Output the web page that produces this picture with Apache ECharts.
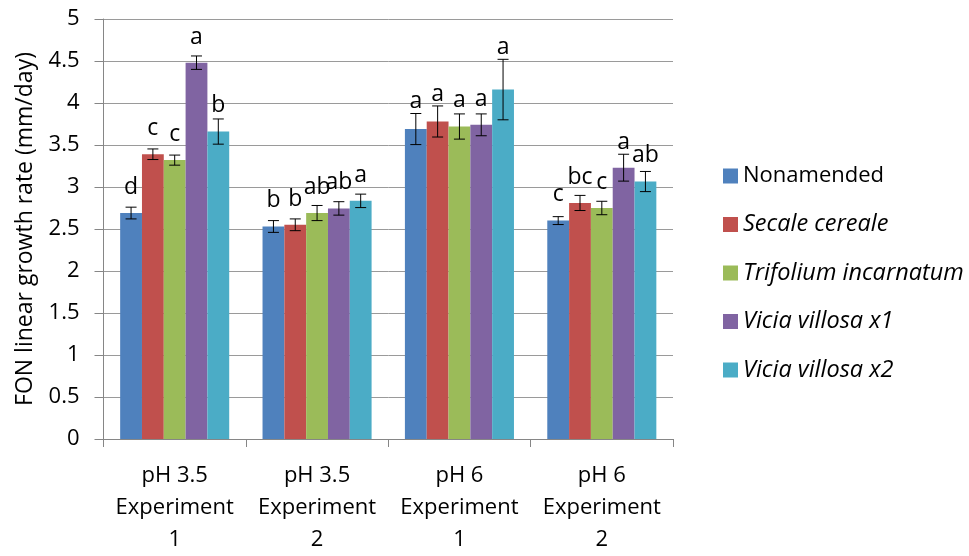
<!DOCTYPE html>
<html>
<head>
<meta charset="utf-8">
<script src="https://cdn.jsdelivr.net/npm/echarts@6/dist/echarts.min.js"></script>
<style>
  html, body { margin: 0; padding: 0; background: #fff; }
  #chart { width: 969px; height: 556px; }
</style>
</head>
<body>
<div id="chart"></div>
<script>
// Experiment groups on the x axis
const categories = ['pH 3.5\nExperiment\n1', 'pH 3.5\nExperiment\n2', 'pH 6\nExperiment\n1', 'pH 6\nExperiment\n2'];

// Treatments (legend order)
const seriesNames = ['Nonamended', 'Secale cereale', 'Trifolium incarnatum', 'Vicia villosa x1', 'Vicia villosa x2'];

// Mean linear growth rate (mm/day) per treatment
const nonamended = [2.69, 2.53, 3.69, 2.60];
const secaleCereale = [3.39, 2.55, 3.78, 2.81];
const trifoliumIncarnatum = [3.32, 2.69, 3.72, 2.75];
const viciaVillosaX1 = [4.48, 2.745, 3.74, 3.23];
const viciaVillosaX2 = [3.66, 2.835, 4.16, 3.065];

// Standard error per treatment
const nonamendedErr = [0.07, 0.07, 0.185, 0.047];
const secaleCerealeErr = [0.063, 0.07, 0.185, 0.09];
const trifoliumIncarnatumErr = [0.06, 0.09, 0.15, 0.08];
const viciaVillosaX1Err = [0.08, 0.08, 0.13, 0.16];
const viciaVillosaX2Err = [0.15, 0.08, 0.36, 0.12];

// Mean separation letters
const nonamendedLetters = ['d', 'b', 'a', 'c'];
const secaleCerealeLetters = ['c', 'b', 'a', 'bc'];
const trifoliumIncarnatumLetters = ['c', 'ab', 'a', 'c'];
const viciaVillosaX1Letters = ['a', 'ab', 'a', 'a'];
const viciaVillosaX2Letters = ['b', 'a', 'a', 'ab'];

// Y axis ticks
const yMin = 0, yMax = 5, yStep = 0.5;

const means = [nonamended, secaleCereale, trifoliumIncarnatum, viciaVillosaX1, viciaVillosaX2];
const errors = [nonamendedErr, secaleCerealeErr, trifoliumIncarnatumErr, viciaVillosaX1Err, viciaVillosaX2Err];
const letters = [nonamendedLetters, secaleCerealeLetters, trifoliumIncarnatumLetters, viciaVillosaX1Letters, viciaVillosaX2Letters];

const colors = ['#4F81BD', '#C0504D', '#9BBB59', '#8064A2', '#4BACC6'];
const FONT = '"Open Sans", "Noto Sans", sans-serif';
const CAT_GAP = 0.234;
const nSeries = seriesNames.length;

const barSeries = seriesNames.map((name, i) => ({
  name: name,
  type: 'bar',
  data: means[i],
  barGap: '0%',
  barCategoryGap: (CAT_GAP * 100) + '%',
  itemStyle: { color: colors[i] },
  z: 2
}));

// Error bars and letters drawn on top of each bar
const errorSeries = seriesNames.map((name, i) => ({
  name: name + ' SE',
  type: 'custom',
  z: 5,
  silent: true,
  clip: false,
  data: categories.map((c, k) => [k, means[i][k], errors[i][k]]),
  encode: { x: 0, y: 1 },
  renderItem: function (params, api) {
    const k = api.value(0);
    const mean = api.value(1);
    const err = api.value(2);
    const letter = letters[i][k];
    const band = api.size([1, 0])[0];
    const barW = band * (1 - CAT_GAP) / nSeries;
    const center = api.coord([k, mean]);
    const x = center[0] + (i - (nSeries - 1) / 2) * barW;
    const barTop = center[1];
    const hi = api.coord([k, mean + err])[1];
    const lo = api.coord([k, mean - err])[1];
    const cap = 5.5;
    const lineStyle = { stroke: '#000', lineWidth: 1 };
    // letter baseline sits above the bar, lifted clear of tall error bars
    const baseline = Math.min(barTop - 19, hi - 5);
    return {
      type: 'group',
      children: [
        { type: 'line', shape: { x1: x, y1: hi, x2: x, y2: lo }, style: lineStyle },
        { type: 'line', shape: { x1: x - cap, y1: hi, x2: x + cap, y2: hi }, style: lineStyle },
        { type: 'line', shape: { x1: x - cap, y1: lo, x2: x + cap, y2: lo }, style: lineStyle },
        {
          type: 'text',
          style: {
            text: letter,
            x: x,
            y: baseline + 4.8,
            align: 'center',
            verticalAlign: 'bottom',
            fontSize: 23,
            lineHeight: 23,
            fontFamily: FONT,
            fill: '#000'
          }
        }
      ]
    };
  }
}));

const chart = echarts.init(document.getElementById('chart'), null, { renderer: 'canvas' });
chart.setOption({
  animation: false,
  backgroundColor: '#fff',
  color: colors,
  grid: { left: 103.5, right: 296, top: 19, bottom: 112, containLabel: false },
  legend: {
    data: seriesNames,
    orient: 'vertical',
    left: 718,
    top: 159,
    itemWidth: 15,
    itemHeight: 15,
    itemGap: 24.5,
    icon: 'rect',
    selectedMode: false,
    formatter: function (name) {
      return name === 'Nonamended' ? name : '{i|' + name + '}';
    },
    textStyle: {
      fontFamily: FONT,
      fontSize: 22,
      lineHeight: 24,
      color: '#000',
      rich: { i: { fontStyle: 'italic', fontFamily: FONT, fontSize: 23.5, lineHeight: 24, color: '#000' } }
    }
  },
  xAxis: {
    type: 'category',
    data: categories,
    axisLine: { lineStyle: { color: '#868686', width: 1 } },
    axisTick: { show: true, length: 8, alignWithLabel: false, lineStyle: { color: '#868686' } },
    axisLabel: {
      interval: 0,
      margin: 21,
      fontFamily: FONT,
      fontSize: 22,
      lineHeight: 32,
      color: '#000'
    }
  },
  yAxis: {
    type: 'value',
    min: yMin,
    max: yMax,
    interval: yStep,
    name: 'FON linear growth rate (mm/day)',
    nameLocation: 'middle',
    nameGap: 67,
    nameTextStyle: { fontFamily: FONT, fontSize: 23, color: '#000' },
    axisLine: { show: true, lineStyle: { color: '#868686', width: 1 } },
    axisTick: { show: true, length: 9, lineStyle: { color: '#868686' } },
    axisLabel: {
      margin: 24,
      fontFamily: FONT,
      fontSize: 22,
      color: '#000',
      formatter: v => String(v)
    },
    splitLine: { show: true, lineStyle: { color: '#9a9a9a', width: 1 } }
  },
  series: barSeries.concat(errorSeries)
});
</script>
</body>
</html>
